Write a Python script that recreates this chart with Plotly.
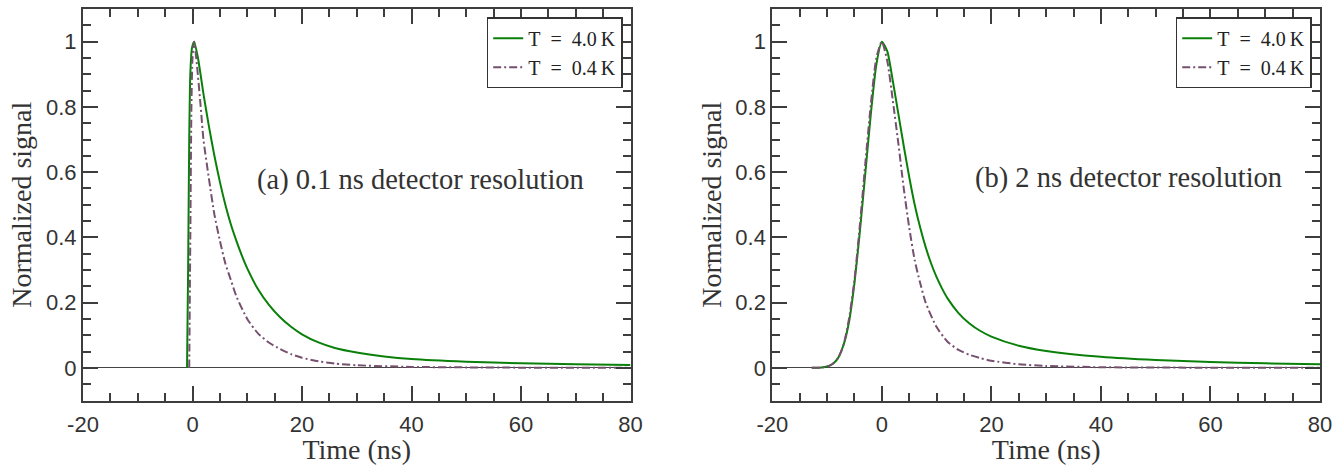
import plotly.graph_objects as go

# ---------------- data ----------------
# Panel (a): 0.1 ns detector resolution
t_a_40 = [-1.0, -0.8, -0.6, -0.4, -0.1, 0.3, 1, 2, 3, 4, 5, 6, 7, 8, 9, 10, 12, 14, 16, 18, 20,
          23, 26, 30, 35, 40, 50, 60, 70, 80]
s_a_40 = [0.0, 0.30, 0.70, 0.90, 0.98, 1.0, 0.95, 0.84, 0.74, 0.65, 0.57, 0.50, 0.44, 0.39,
          0.345, 0.305, 0.24, 0.192, 0.155, 0.126, 0.103, 0.078, 0.061, 0.047, 0.035, 0.027,
          0.019, 0.014, 0.011, 0.009]

t_a_04 = [-0.6, -0.4, -0.2, 0.0, 0.3, 0.8, 1.5, 2, 3, 4, 5, 6, 7, 8, 10, 12, 14, 16, 18, 20,
          23, 26, 30, 40, 50, 60, 80]
s_a_04 = [0.0, 0.40, 0.80, 0.95, 1.0, 0.93, 0.80, 0.70, 0.58, 0.47, 0.39, 0.32, 0.27, 0.22,
          0.15, 0.105, 0.077, 0.058, 0.042, 0.031, 0.02, 0.013, 0.008, 0.003, 0.0015, 0.0007, 0.0]

# Panel (b): 2 ns detector resolution
t_b_40 = [-12.8, -11, -10, -9, -8, -7, -6, -5, -4, -3, -2, -1, 0, 1, 2, 3, 4, 5, 6, 7, 8, 9,
          10, 11, 12, 14, 16, 18, 20, 25, 30, 40, 50, 60, 70, 80]
s_b_40 = [0.0, 0.001, 0.004, 0.012, 0.03, 0.07, 0.14, 0.26, 0.42, 0.60, 0.78, 0.93, 1.0, 0.97,
          0.88, 0.78, 0.68, 0.585, 0.50, 0.43, 0.37, 0.32, 0.278, 0.243, 0.213, 0.168, 0.136,
          0.113, 0.096, 0.068, 0.052, 0.034, 0.024, 0.018, 0.014, 0.011]

t_b_04 = [-12.8, -11, -10, -9, -8, -7, -6, -5, -4, -3, -2, -1, 0, 1, 2, 3, 4, 5, 6, 7, 8, 10,
          12, 14, 16, 18, 20, 25, 30, 40, 60, 80]
s_b_04 = [0.0, 0.001, 0.004, 0.012, 0.03, 0.07, 0.15, 0.27, 0.44, 0.63, 0.81, 0.95, 1.0, 0.94,
          0.82, 0.69, 0.55, 0.43, 0.33, 0.26, 0.20, 0.125, 0.08, 0.055, 0.04, 0.03, 0.022,
          0.011, 0.006, 0.002, 0.0005, 0.0]

x_tick_vals = [-20, 0, 20, 40, 60, 80]
x_tick_text = ["-20", "0", "20", "40", "60", "80"]
y_tick_vals = [0, 0.2, 0.4, 0.6, 0.8, 1.0]
y_tick_text = ["0", "0.2", "0.4", "0.6", "0.8", "1"]

series_names = ["T\u2002=\u20024.0\u2009K", "T\u2002=\u20020.4\u2009K"]
panel_labels = ["(a) 0.1 ns detector resolution", "(b) 2 ns detector resolution"]

# ---------------- styling ----------------
GREEN = "#0a800a"
PURPLE = "#76506f"
AX = "#3d3d3d"
TXT = "#333333"
SERIF = "Liberation Serif"
SANS = "Liberation Sans"
W, H = 1344, 465

fig = go.Figure()

panels = [
    ("x", "y", "legend", t_a_40, s_a_40, t_a_04, s_a_04),
    ("x2", "y2", "legend2", t_b_40, s_b_40, t_b_04, s_b_04),
]
for xa, ya, lg, t1, s1, t2, s2 in panels:
    fig.add_trace(go.Scatter(x=t1, y=s1, mode="lines", name=series_names[0],
                             line=dict(color=GREEN, width=2, shape="spline", smoothing=0.6),
                             xaxis=xa, yaxis=ya, legend=lg))
    fig.add_trace(go.Scatter(x=t2, y=s2, mode="lines", name=series_names[1],
                             line=dict(color=PURPLE, width=2, shape="spline", smoothing=0.6,
                                       dash="8px,3px,2px,3px"),
                             xaxis=xa, yaxis=ya, legend=lg))

ydom = [64.5 / H, 1 - 9 / H]
xdoms = [[83 / W, 630.5 / W], [772.3 / W, 1320 / W]]

common_x = dict(range=[-20, 80], tickvals=x_tick_vals, ticktext=x_tick_text,
                ticks="inside", ticklen=15, tickwidth=2, tickcolor=AX,
                showline=True, linecolor=AX, linewidth=2, mirror="ticks",
                showgrid=False, zeroline=False, automargin=False,
                ticklabelstandoff=3,
                minor=dict(dtick=5, tick0=0, ticks="inside", ticklen=8, tickwidth=2,
                           tickcolor=AX, showgrid=False),
                tickfont=dict(family=SANS, size=22, color=TXT),
                title=dict(text="Time (ns)", font=dict(family=SERIF, size=28, color=TXT),
                           standoff=2))
common_y = dict(range=[-0.1, 1.1], tickvals=y_tick_vals, ticktext=y_tick_text,
                ticks="inside", ticklen=15, tickwidth=2, tickcolor=AX,
                showline=True, linecolor=AX, linewidth=2, mirror="ticks",
                showgrid=False, zeroline=True, zerolinecolor="#444444", zerolinewidth=1.2,
                automargin=False,
                minor=dict(dtick=0.05, tick0=0, ticks="inside", ticklen=8, tickwidth=2,
                           tickcolor=AX, showgrid=False),
                tickfont=dict(family=SANS, size=22, color=TXT),
                title=dict(text="Normalized signal", font=dict(family=SERIF, size=28, color=TXT),
                           standoff=6))

legend_common = dict(font=dict(family=SERIF, size=20, color="#222222"),
                     bgcolor="white", bordercolor="#333333", borderwidth=1.5,
                     xanchor="right", yanchor="top", y=1 - 17.3 / H,
                     tracegroupgap=0, itemwidth=30)

fig.update_layout(
    width=W, height=H,
    margin=dict(l=0, r=0, t=0, b=0),
    paper_bgcolor="white", plot_bgcolor="white",
    xaxis=dict(domain=xdoms[0], anchor="y", **common_x),
    yaxis=dict(domain=ydom, anchor="x", **common_y),
    xaxis2=dict(domain=xdoms[1], anchor="y2", **common_x),
    yaxis2=dict(domain=ydom, anchor="x2", **common_y),
    legend=dict(x=622.7 / W, **legend_common),
    legend2=dict(x=1311.7 / W, **legend_common),
    annotations=[
        dict(text=panel_labels[0], xref="paper", yref="paper", x=420.5 / W, y=1 - 180 / H,
             xanchor="center", yanchor="middle", showarrow=False,
             font=dict(family=SERIF, size=28.5, color=TXT)),
        dict(text=panel_labels[1], xref="paper", yref="paper", x=1128 / W, y=1 - 178 / H,
             xanchor="center", yanchor="middle", showarrow=False,
             font=dict(family=SERIF, size=28.5, color=TXT)),
    ],
)

fig.write_html("out.html")
